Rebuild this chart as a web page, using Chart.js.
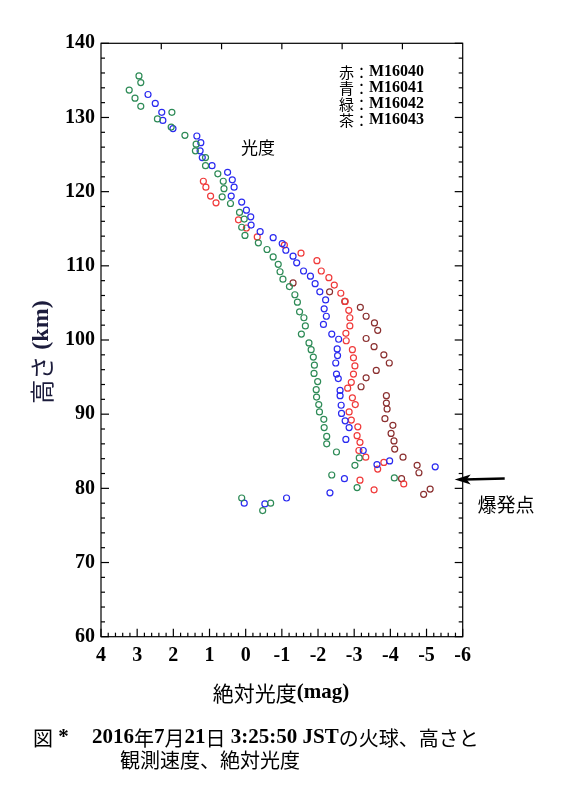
<!DOCTYPE html>
<html>
<head>
<meta charset="utf-8">
<script src="https://cdn.jsdelivr.net/npm/chart.js@4"></script>
<style>
  body { margin: 0; background: #fff; }
  #wrap { width: 563px; height: 800px; }
</style>
</head>
<body>
<div id="wrap"><canvas id="myChart" width="563" height="800"></canvas></div>
<script>
// ---------------------------------------------------------------- data
const xTicks = [4, 3, 2, 1, 0, -1, -2, -3, -4, -5, -6];
const yTicks = [60, 70, 80, 90, 100, 110, 120, 130, 140];

const seriesNames = ["赤：M16040", "青：M16041", "緑：M16042", "茶：M16043"];

// 赤 M16040
const redMag = [1.17, 1.10, 0.97, 0.82, 0.20, -0.02, -0.32, -1.07, -1.53, -1.97,
  -2.09, -2.30, -2.45, -2.63, -2.75, -2.85, -2.88, -2.88, -2.77, -2.78,
  -2.95, -2.98, -3.02, -2.98, -2.92, -2.82, -2.95, -3.03, -2.86, -2.92,
  -3.10, -3.08, -3.16, -3.13, -3.32, -3.82, -3.65, -3.16, -4.37, -3.55];
const redKm = [121.4, 120.6, 119.4, 118.5, 116.2, 115.1, 113.9, 112.8, 111.7, 110.7,
  109.3, 108.4, 107.4, 106.3, 105.2, 104.0, 103.0, 101.9, 100.9, 99.9,
  98.7, 97.6, 96.5, 95.4, 94.3, 93.5, 92.2, 91.3, 90.3, 89.2,
  88.3, 87.1, 86.2, 85.1, 84.2, 83.5, 82.6, 81.1, 80.6, 79.8];

// 青 M16041
const blueMag = [2.70, 2.50, 2.32, 2.29, 2.01, 1.35, 1.24, 1.26, 1.20, 0.93,
  0.50, 0.37, 0.32, 0.40, 0.11, -0.02, -0.14, -0.15, -0.40, -0.76,
  -1.01, -1.11, -1.31, -1.41, -1.60, -1.79, -1.92, -2.05, -2.21, -2.17,
  -2.23, -2.15, -2.38, -2.57, -2.53, -2.54, -2.49, -2.51, -2.56, -2.61,
  -2.61, -2.64, -2.65, -2.75, -2.86, -2.77, -3.25, -3.98, -3.63, -5.24,
  -2.73, -2.33, -1.13, 0.04, -0.53];
const blueKm = [133.1, 131.9, 130.7, 129.6, 128.5, 127.5, 126.6, 125.5, 124.6, 123.5,
  122.6, 121.6, 120.6, 119.4, 118.6, 117.5, 116.6, 115.5, 114.6, 113.8,
  113.0, 112.1, 111.3, 110.4, 109.3, 108.6, 107.6, 106.5, 105.4, 104.2,
  103.2, 102.1, 100.8, 100.1, 98.8, 97.9, 96.9, 95.4, 94.8, 93.2,
  92.5, 91.2, 90.1, 89.1, 88.2, 86.6, 85.1, 83.7, 83.2, 82.9,
  81.3, 79.4, 78.7, 78.0, 77.9];

// 緑 M16042
const greenMag = [2.95, 2.90, 3.22, 3.06, 2.90, 2.04, 2.44, 2.06, 1.68, 1.37,
  1.39, 1.11, 1.11, 0.77, 0.62, 0.60, 0.65, 0.42, 0.17, 0.04,
  0.11, 0.02, -0.35, -0.59, -0.76, -0.90, -0.95, -1.03, -1.21, -1.36,
  -1.43, -1.49, -1.61, -1.65, -1.54, -1.75, -1.81, -1.87, -1.90, -1.89,
  -1.99, -1.95, -1.96, -2.02, -2.04, -2.16, -2.17, -2.24, -2.24, -2.51,
  -3.14, -3.02, -2.38, -4.11, -3.08, 0.11, -0.69, -0.47];
const greenKm = [135.6, 134.7, 133.7, 132.6, 131.5, 130.7, 129.8, 128.7, 127.6, 126.4,
  125.5, 124.6, 123.5, 122.4, 121.4, 120.4, 119.3, 118.4, 117.2, 116.3,
  115.2, 114.1, 113.1, 112.2, 111.2, 110.2, 109.2, 108.2, 107.2, 106.1,
  105.1, 103.8, 103.0, 101.9, 100.8, 99.6, 98.7, 97.7, 96.6, 95.5,
  94.4, 93.3, 92.3, 91.3, 90.3, 89.3, 88.2, 87.0, 86.0, 84.9,
  84.1, 83.1, 81.8, 81.4, 80.1, 78.7, 78.0, 77.0];

// 茶 M16043
const brownMag = [-1.31, -2.32, -2.74, -3.17, -3.33, -3.56, -3.65, -3.33, -3.55, -3.82,
  -3.97, -3.61, -3.33, -3.19, -3.89, -3.89, -3.91, -3.85, -4.07, -4.02,
  -4.10, -4.12, -4.35, -4.74, -4.79, -4.31, -5.10, -4.92];
const brownKm = [107.7, 106.5, 105.2, 104.4, 103.2, 102.3, 101.3, 100.2, 99.1, 98.0,
  96.9, 95.9, 94.9, 93.7, 92.5, 91.5, 90.7, 89.4, 88.5, 87.4,
  86.4, 85.3, 84.2, 83.1, 82.1, 81.3, 79.9, 79.2];

const burstKm = 81.2; // 爆発点
// ---------------------------------------------------------------- helpers
const SERIF = "'Liberation Serif', 'Times New Roman', serif";
const CJK = "'Noto Sans CJK JP', sans-serif";

function toPoints(xs, ys) {
  return xs.map((v, i) => ({ x: v, y: ys[i] }));
}

function drawRuns(ctx, runs, x, y, align) {
  let total = 0;
  runs.forEach((r) => {
    ctx.font = r[1];
    total += ctx.measureText(r[0]).width;
  });
  let cx = x;
  if (align === "center") cx = x - total / 2;
  if (align === "right") cx = x - total;
  ctx.textAlign = "left";
  ctx.textBaseline = "middle";
  runs.forEach((r) => {
    ctx.font = r[1];
    ctx.fillText(r[0], cx, y);
    cx += ctx.measureText(r[0]).width;
  });
}

function line(ctx, x1, y1, x2, y2) {
  ctx.beginPath();
  ctx.moveTo(x1, y1);
  ctx.lineTo(x2, y2);
  ctx.stroke();
}
// ---------------------------------------------------------------- decorations
const deco = {
  id: "deco",
  afterDraw(chart) {
    const { ctx, chartArea: a, scales } = chart;
    const xs = scales.x;
    const ys = scales.y;
    ctx.save();
    ctx.strokeStyle = "#000";
    ctx.lineWidth = 1.2;
    ctx.strokeRect(a.left, a.top, a.right - a.left, a.bottom - a.top);

    // y ticks (left + right), inward
    for (let v = yTicks[0]; v <= yTicks[yTicks.length - 1]; v += 2) {
      const py = ys.getPixelForValue(v);
      const len = v % 10 === 0 ? 8 : 4;
      line(ctx, a.left, py, a.left + len, py);
      line(ctx, a.right, py, a.right - len, py);
    }
    // x ticks bottom, inward
    for (let i = -30; i <= 20; i++) {
      const px = xs.getPixelForValue(i / 5);
      const len = i % 5 === 0 ? 8 : 4;
      line(ctx, px, a.bottom, px, a.bottom - len);
    }
    // top ticks (shared frame with upper panel)
    for (let i = 1; i < 6; i++) {
      const px = a.left + ((a.right - a.left) * i) / 6;
      line(ctx, px, a.top, px, a.top + 6);
    }

    ctx.fillStyle = "#000";
    // legend text
    const legY = [72, 88, 104, 120];
    seriesNames.forEach((n, i) => {
      const parts = n.split("：");
      drawRuns(ctx, [[parts[0] + "：", "15px " + CJK], [parts[1], "bold 16px " + SERIF]], 339, legY[i], "left");
    });
    drawRuns(ctx, [["光度", "17px " + CJK]], 258, 148, "center");

    // burst arrow
    const ay = ys.getPixelForValue(burstKm);
    const tip = a.right - 8;
    ctx.lineWidth = 2.6;
    line(ctx, tip + 10, ay, a.right + 42, ay - 1);
    ctx.beginPath();
    ctx.moveTo(tip, ay);
    ctx.lineTo(tip + 16, ay - 5);
    ctx.lineTo(tip + 12, ay);
    ctx.lineTo(tip + 16, ay + 5);
    ctx.closePath();
    ctx.fill();
    drawRuns(ctx, [["爆発点", "19px " + CJK]], 506, 505, "center");

    // axis titles
    drawRuns(ctx, [["絶対光度", "21px " + CJK], ["(mag)", "bold 21px " + SERIF]], 281, 693, "center");
    ctx.save();
    ctx.translate(42, 352);
    ctx.rotate(-Math.PI / 2);
    ctx.fillStyle = "#1c1c3c";
    drawRuns(ctx, [["高さ", "24px " + CJK], [" (km)", "bold 24px " + SERIF]], 0, 0, "center");
    ctx.restore();

    // caption
    const cj = "20px " + CJK;
    const lt = "bold 21px " + SERIF;
    drawRuns(ctx, [["図", cj], [" *", lt]], 33, 738, "left");
    drawRuns(ctx, [["2016", lt], ["年", cj], ["7", lt], ["月", cj], ["21", lt], ["日", cj],
      [" 3:25:50 JST", lt], ["の火球、高さと", cj]], 92, 738, "left");
    drawRuns(ctx, [["観測速度、絶対光度", cj]], 120, 760, "left");
    ctx.restore();
  },
};
// ---------------------------------------------------------------- chart
const ctx = document.getElementById("myChart");

function makeSet(label, xs, ys, color) {
  return {
    label: label,
    data: toPoints(xs, ys),
    showLine: false,
    pointRadius: 3,
    pointBorderWidth: 1.2,
    pointBackgroundColor: "rgba(0,0,0,0)",
    pointBorderColor: color,
    borderColor: color,
    backgroundColor: "rgba(0,0,0,0)",
  };
}

const tickFont = { family: SERIF, size: 20, weight: "bold" };

new Chart(ctx, {
  type: "scatter",
  data: {
    datasets: [
      makeSet(seriesNames[2], greenMag, greenKm, "#2e8b57"),
      makeSet(seriesNames[1], blueMag, blueKm, "#2a2af0"),
      makeSet(seriesNames[0], redMag, redKm, "#f03a3a"),
      makeSet(seriesNames[3], brownMag, brownKm, "#8b3030"),
    ],
  },
  options: {
    responsive: false,
    animation: false,
    events: [],
    layout: { padding: { left: 41, right: 100.3, top: 43.3, bottom: 123.3 } },
    plugins: { legend: { display: false }, tooltip: { enabled: false } },
    scales: {
      x: {
        type: "linear",
        reverse: true,
        min: xTicks[xTicks.length - 1],
        max: xTicks[0],
        afterBuildTicks: (s) => { s.ticks = xTicks.map((v) => ({ value: v })); },
        afterFit: (s) => { s.height = 40; },
        grid: { display: false, drawTicks: false },
        border: { display: false },
        ticks: { font: tickFont, color: "#000", padding: 7, maxRotation: 0, autoSkip: false },
      },
      y: {
        type: "linear",
        min: yTicks[0],
        max: yTicks[yTicks.length - 1],
        afterBuildTicks: (s) => { s.ticks = yTicks.map((v) => ({ value: v })); },
        afterFit: (s) => { s.width = 60; },
        grid: { display: false, drawTicks: false },
        border: { display: false },
        ticks: { font: tickFont, color: "#000", padding: 6, autoSkip: false },
      },
    },
  },
  plugins: [deco],
});
</script>
</body>
</html>
